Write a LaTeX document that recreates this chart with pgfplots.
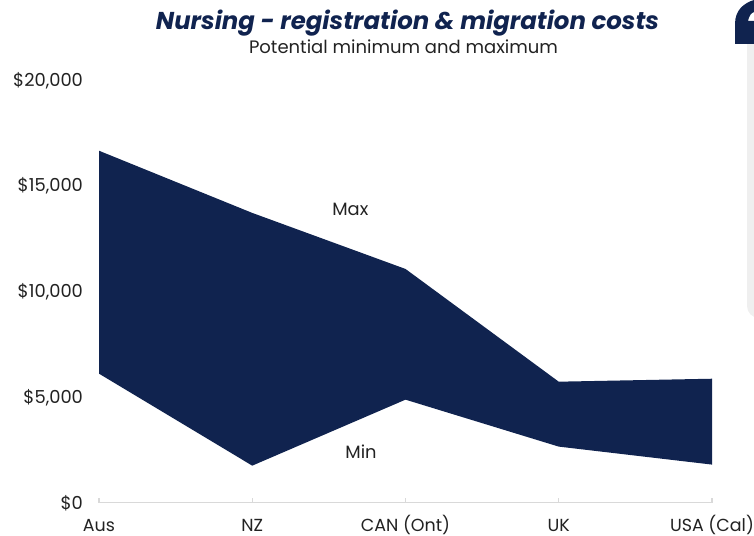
\documentclass[border=0pt]{standalone}
\usepackage{fontspec}
\setmainfont{Poppins}
\usepackage{pgfplots}
\pgfplotsset{compat=1.18}
\definecolor{navy}{HTML}{10234F}
\definecolor{axisgray}{HTML}{D9D9D9}
\definecolor{panelgray}{HTML}{EFEFEF}
\definecolor{txt}{HTML}{222222}
\begin{document}
\begin{tikzpicture}
\useasboundingbox (0pt,0pt) rectangle (565.5pt,402pt);
\begin{scope}[x=0.75pt,y=-0.75pt,yshift=402pt]
\fill[panelgray] (754,40) -- (747,40) -- (747,306) arc[start angle=180,end angle=270,radius=9pt] -- (754,318) -- cycle;
\fill[navy] (735,44) -- (735,24) .. controls (735,10) and (744,3) .. (754,0) -- (754,12) .. controls (751,13) and (749,16) .. (748,21) -- (754,21) -- (754,44) -- cycle;
\node[anchor=base,text=navy,font=\fontsize{18.3pt}{20pt}\selectfont\bfseries\itshape] at (407.5,30) {Nursing - registration \& migration costs};
\node[anchor=base,text=txt,font=\fontsize{13.5pt}{15pt}\selectfont] at (403.5,54) {Potential minimum and maximum};
\end{scope}
\begin{axis}[
  at={(74.25pt,25pt)},anchor=south west,
  scale only axis,width=459.75pt,height=317.25pt,
  xmin=0,xmax=4,ymin=0,ymax=20000,
  clip=false,
  axis line style={draw=none},
  scaled y ticks=false,
  xtick={0,1,2,3,4},
  xticklabels={Aus,NZ,CAN (Ont),UK,USA (Cal)},
  ytick={0,5000,10000,15000,20000},
  yticklabels={\$0,\$5{,}000,\$10{,}000,\$15{,}000,\$20{,}000},
  major tick length=0pt,
  ticklabel style={font=\fontsize{13.4pt}{15pt}\selectfont,text=txt},
  y tick label style={xshift=-8.5pt,yshift=-0.5pt},
  x tick label style={font=\fontsize{13.1pt}{15pt}\selectfont,inner ysep=0pt,yshift=-12.2pt,text height=9.5pt,text depth=2.5pt},
]
\addplot[fill=navy,draw=none] coordinates {(0,16640)(1,13700)(2,11050)(3,5720)(4,5860)(4,1800)(3,2650)(2,4870)(1,1750)(0,6100)} -- cycle;
\addplot[axisgray,line width=1pt,ycomb,mark=none] coordinates {(0,200)(1,200)(2,200)(3,200)(4,200)};
\addplot[axisgray,line width=1pt] coordinates {(0,0)(1,0)(2,0)(3,0)(4,0)};
\node[font=\fontsize{13.4pt}{15pt}\selectfont,text=txt] at (axis cs:1.64,13880) {Max};
\node[font=\fontsize{13.4pt}{15pt}\selectfont,text=txt] at (axis cs:1.71,2400) {Min};
\end{axis}
\end{tikzpicture}
\end{document}
